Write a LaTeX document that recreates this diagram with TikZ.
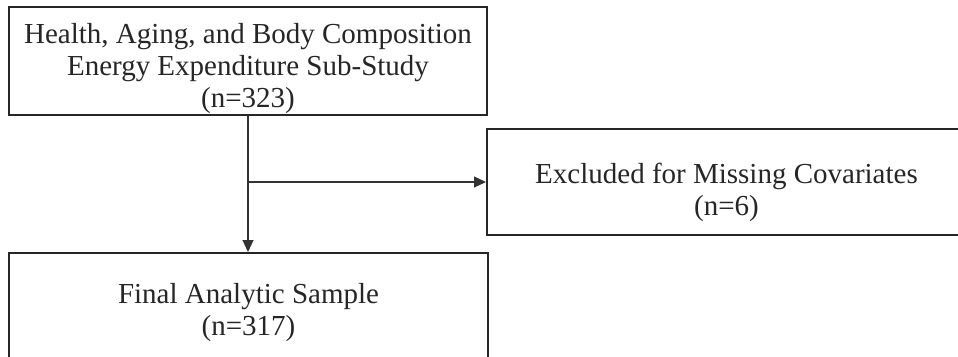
\documentclass[tikz,border=0pt]{standalone}
\usepackage{fontspec}
\setmainfont{Liberation Serif}
\usetikzlibrary{arrows.meta}
\begin{document}
\begin{tikzpicture}[x=1pt,y=-1pt,
  box/.style={draw=black!85, line width=2pt, rectangle, align=center, inner sep=0pt,
    font=\fontsize{29}{32}\selectfont, text=black!85},
  arr/.style={draw=black!80, line width=1.2pt, -{Triangle[length=12pt,width=11pt]}}]
\useasboundingbox (0,0) rectangle (958,356);
\clip (0,0) rectangle (958,356);
\fill[white] (0,0) rectangle (958,356);
\node[box, minimum width=478, minimum height=108] (top) at (248,61) {\rule{0pt}{36pt}Health, Aging, and Body Composition\\Energy Expenditure Sub-Study\\(n=323)};
\node[box, minimum width=479, minimum height=106] (excl) at (726.5,182) {\rule{0pt}{42pt}Excluded for Missing Covariates\\(n=6)};
\node[box, minimum width=479, minimum height=120] (final) at (248.5,313) {Final Analytic Sample\\(n=317)};
\coordinate (br) at (top.south |- excl.west);
\draw[arr] (top.south) -- (top.south |- final.north);
\draw[arr] (br) -- (excl.west);
\end{tikzpicture}
\end{document}
